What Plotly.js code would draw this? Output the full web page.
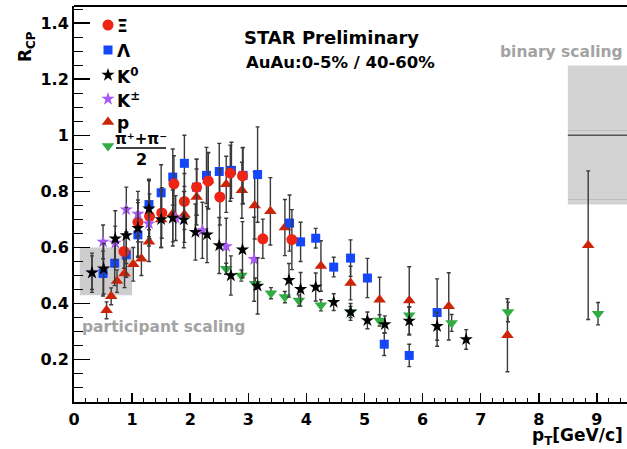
<!DOCTYPE html>
<html><head><meta charset="utf-8">
<script src="https://cdn.plot.ly/plotly-3.0.1.min.js"></script>
<style>html,body{margin:0;padding:0;background:#fff}</style>
</head><body><div id="chart" style="width:627px;height:449px"></div>
<script>
// ---- data (pT in GeV/c, R_CP) ----
const xi_pt  = [0.86,1.10,1.30,1.51,1.72,1.90,2.11,2.31,2.51,2.69,2.90,3.25,3.75];
const xi_r   = [0.586,0.69,0.711,0.723,0.827,0.764,0.815,0.837,0.78,0.865,0.855,0.631,0.628];
const xi_err = [0.06,0.07,0.08,0.09,0.10,0.10,0.10,0.10,0.10,0.10,0.10,0.07,0.107];

const lam_pt  = [0.50,0.70,0.90,1.10,1.29,1.50,1.70,1.90,2.11,2.28,2.50,2.71,2.91,3.16,3.71,3.90,4.16,4.47,4.76,5.05,5.34,5.77,6.25];
const lam_r   = [0.507,0.544,0.574,0.645,0.753,0.795,0.851,0.90,0.815,0.857,0.871,0.875,0.857,0.86,0.687,0.62,0.633,0.53,0.562,0.491,0.255,0.215,0.368];
const lam_err = [0.08,0.08,0.08,0.08,0.09,0.10,0.10,0.10,0.10,0.10,0.10,0.10,0.10,0.17,0.10,0.07,0.035,0.035,0.065,0.07,0.04,0.04,0.12];

const k0_pt  = [0.31,0.51,0.71,0.90,1.10,1.29,1.50,1.70,1.89,2.09,2.29,2.50,2.70,2.90,3.16,3.70,3.90,4.16,4.47,4.76,5.05,5.35,5.77,6.25,6.75];
const k0_r   = [0.51,0.524,0.631,0.643,0.669,0.738,0.70,0.705,0.699,0.655,0.646,0.607,0.50,0.592,0.463,0.483,0.451,0.459,0.405,0.37,0.34,0.326,0.338,0.319,0.272];
const k0_err = [0.07,0.09,0.10,0.10,0.10,0.10,0.10,0.10,0.10,0.10,0.10,0.10,0.07,0.10,0.10,0.06,0.06,0.05,0.03,0.03,0.03,0.03,0.05,0.05,0.035];

const kpm_pt  = [0.31,0.50,0.71,0.90,1.10,1.29,1.75,2.21,2.62,3.10];
const kpm_r   = [0.51,0.62,0.616,0.735,0.72,0.685,0.705,0.661,0.604,0.558];
const kpm_err = [0.06,0.06,0.06,0.08,0.08,0.08,0.08,0.10,0.10,0.15];

const p_pt  = [0.56,0.64,0.74,0.87,1.02,1.16,1.29,1.50,1.70,1.90,2.11,2.31,2.62,2.89,3.11,3.38,3.63,4.25,4.76,5.26,5.77,6.45,7.46,8.85];
const p_r   = [0.376,0.426,0.48,0.507,0.54,0.56,0.62,0.70,0.72,0.718,0.78,0.839,0.825,0.804,0.75,0.729,0.671,0.534,0.473,0.414,0.411,0.39,0.287,0.608];
const p_err = [0.03,0.03,0.04,0.05,0.06,0.06,0.07,0.10,0.10,0.10,0.10,0.10,0.10,0.10,0.12,0.12,0.10,0.09,0.06,0.08,0.12,0.12,0.13,0.265];

const pi_pt  = [2.62,2.88,3.12,3.39,3.63,3.87,4.25,4.76,5.26,5.77,6.50,7.47,9.02];
const pi_r   = [0.524,0.50,0.471,0.437,0.423,0.411,0.394,0.37,0.34,0.358,0.331,0.37,0.364];
const pi_err = [0.02,0.02,0.02,0.02,0.02,0.02,0.02,0.02,0.02,0.03,0.03,0.035,0.04];

const xTicks = [0,1,2,3,4,5,6,7,8,9];
const yTicks = [0.2,0.4,0.6,0.8,1.0,1.2,1.4];
const yTickText = ["0.2","0.4","0.6","0.8","1","1.2","1.4"];

// ---- geometry ----
const FW = 627, FH = 449, ML = 74, MR = 0, MT = 6, MB = 47;
const PW = FW - ML - MR, PH = FH - MT - MB;
const px = v => (v - ML) / PW;          // figure pixel -> paper x
const py = v => (FH - MB - v) / PH;     // figure pixel -> paper y
const XMAX = 9.518;

const FONT = "DejaVu Sans";
const ERRC = "#3a3a3a";

const C_XI = "rgb(238,36,20)", C_LAM = "rgb(20,70,250)", C_K0 = "#000000",
      C_KPM = "rgb(168,88,245)", C_P = "rgb(204,36,8)", C_PI = "rgb(48,172,66)";

function series(x, y, e, sym, color, size) {
  return {
    x: x, y: y, type: "scatter", mode: "markers", showlegend: false, hoverinfo: "x+y",
    marker: {symbol: sym, color: color, size: size, line: {width: 0}},
    error_y: {type: "data", array: e, visible: true, color: ERRC, thickness: 1.4, width: 2}
  };
}

const traces = [
  series(p_pt, p_r, p_err, "triangle-up", C_P, 11),
  series(pi_pt, pi_r, pi_err, "triangle-down", C_PI, 11),
  series(lam_pt, lam_r, lam_err, "square", C_LAM, 9),
  series(xi_pt, xi_r, xi_err, "circle", C_XI, 11),
  series(kpm_pt, kpm_r, kpm_err, "star", C_KPM, 10),
  series(k0_pt, k0_r, k0_err, "star", C_K0, 10)
];

// legend symbols (overlay axes in paper units)
const legRows = [
  {sym: "circle", color: C_XI, size: 11, y: 25, text: "Ξ"},
  {sym: "square", color: C_LAM, size: 9, y: 50, text: "Λ"},
  {sym: "star", color: C_K0, size: 10, y: 75, text: "K<sup>0</sup>"},
  {sym: "star", color: C_KPM, size: 10, y: 99, text: "K<sup>±</sup>"},
  {sym: "triangle-up", color: C_P, size: 11, y: 122, text: "p"},
  {sym: "triangle-down", color: C_PI, size: 11, y: 146, text: null}
];
legRows.forEach(r => {
  traces.push({
    x: [px(108)], y: [py(r.y)], xaxis: "x2", yaxis: "y2", type: "scatter", mode: "markers",
    showlegend: false, hoverinfo: "skip",
    marker: {symbol: r.sym, color: r.color, size: r.size, line: {width: 0}}
  });
});

const boldFont = (size, color) => ({family: FONT, size: size, weight: "bold", color: color || "#000"});

const annotations = [];
legRows.forEach(r => {
  if (r.text) annotations.push({xref: "paper", yref: "paper", x: px(115), y: py(r.y + 1),
    xanchor: "left", yanchor: "middle", showarrow: false, text: r.text, font: boldFont(17)});
});
annotations.push(
  {xref: "paper", yref: "paper", x: px(141), y: py(139), xanchor: "center", yanchor: "middle",
   showarrow: false, text: "π⁺+π⁻", font: boldFont(15)},
  {xref: "paper", yref: "paper", x: px(141), y: py(160), xanchor: "center", yanchor: "middle",
   showarrow: false, text: "2", font: boldFont(16)},
  {xref: "paper", yref: "paper", x: px(331), y: py(37), xanchor: "center", yanchor: "middle",
   showarrow: false, text: "STAR Preliminary", font: boldFont(18)},
  {xref: "paper", yref: "paper", x: px(340), y: py(63), xanchor: "center", yanchor: "middle",
   showarrow: false, text: "AuAu:0-5% / 40-60%", font: boldFont(16.5)},
  {xref: "paper", yref: "paper", x: px(561), y: py(52), xanchor: "center", yanchor: "middle",
   showarrow: false, text: "binary scaling", font: boldFont(15.5, "#a3a3a3")},
  {xref: "paper", yref: "paper", x: px(80), y: py(327), xanchor: "left", yanchor: "middle",
   showarrow: false, text: "participant scaling", font: boldFont(15.5, "#a3a3a3")},
  {xref: "paper", yref: "paper", x: px(27), y: py(47), xanchor: "center", yanchor: "middle",
   textangle: -90, showarrow: false, text: "R<sub>CP</sub>", font: boldFont(17)},
  {xref: "paper", yref: "paper", x: px(625), y: py(436), xanchor: "right", yanchor: "middle",
   showarrow: false, text: "p<sub>T</sub>[GeV/c]", font: boldFont(17)}
);

const shapes = [
  // participant scaling band
  {type: "rect", xref: "x", yref: "y", x0: 0.1, x1: 1.0, y0: 0.43, y1: 0.60,
   fillcolor: "#cdcdcd", line: {width: 0}, layer: "below"},
  // binary scaling band
  {type: "rect", xref: "x", yref: "y", x0: 8.5, x1: XMAX, y0: 0.753, y1: 1.249,
   fillcolor: "#d3d3d3", line: {width: 0}, layer: "below"},
  {type: "line", xref: "x", yref: "y", x0: 8.5, x1: XMAX, y0: 1.017, y1: 1.017,
   line: {color: "#bdbdbd", width: 1}, layer: "below"},
  {type: "line", xref: "x", yref: "y", x0: 8.5, x1: XMAX, y0: 0.771, y1: 0.771,
   line: {color: "#bdbdbd", width: 1}, layer: "below"},
  {type: "line", xref: "x", yref: "y", x0: 8.5, x1: XMAX, y0: 1.0, y1: 1.0,
   line: {color: "#555555", width: 1.5}, layer: "below"},
  // top frame
  {type: "line", xref: "paper", yref: "paper", x0: 0, x1: 1, y0: 1, y1: 1,
   line: {color: "#000", width: 2}},
  // fraction bar in legend
  {type: "line", xref: "paper", yref: "paper", x0: px(116), x1: px(166), y0: py(148), y1: py(148),
   line: {color: "#000", width: 1.5}}
];

const layout = {
  width: FW, height: FH,
  margin: {l: ML, r: MR, t: MT, b: MB, pad: 0},
  paper_bgcolor: "#fff", plot_bgcolor: "#fff",
  showlegend: false,
  font: {family: FONT, color: "#000"},
  xaxis: {
    range: [0, XMAX], showline: true, linecolor: "#000", linewidth: 2, mirror: false,
    ticks: "inside", ticklen: 9, tickwidth: 1.5, tickcolor: "#000",
    tickvals: xTicks, ticktext: xTicks.map(String), ticklabelstandoff: 2,
    minor: {dtick: 0.2, tick0: 0, ticks: "inside", ticklen: 4.5, tickwidth: 1, tickcolor: "#000", showgrid: false},
    tickfont: boldFont(16), showgrid: false, zeroline: false, automargin: false, fixedrange: true
  },
  yaxis: {
    range: [0.049, 1.461], showline: true, linecolor: "#000", linewidth: 2, mirror: false,
    ticks: "inside", ticklen: 16, tickwidth: 1.5, tickcolor: "#000",
    tickvals: yTicks, ticktext: yTickText,
    minor: {dtick: 0.05, tick0: 0, ticks: "inside", ticklen: 9, tickwidth: 1, tickcolor: "#000", showgrid: false},
    tickfont: boldFont(16), showgrid: false, zeroline: false, automargin: false, fixedrange: true
  },
  xaxis2: {overlaying: "x", anchor: "y", range: [0, 1], visible: false, fixedrange: true},
  yaxis2: {overlaying: "y", anchor: "x", range: [0, 1], visible: false, fixedrange: true},
  annotations: annotations,
  shapes: shapes
};

Plotly.newPlot("chart", traces, layout, {displayModeBar: false, staticPlot: true});
</script></body></html>
